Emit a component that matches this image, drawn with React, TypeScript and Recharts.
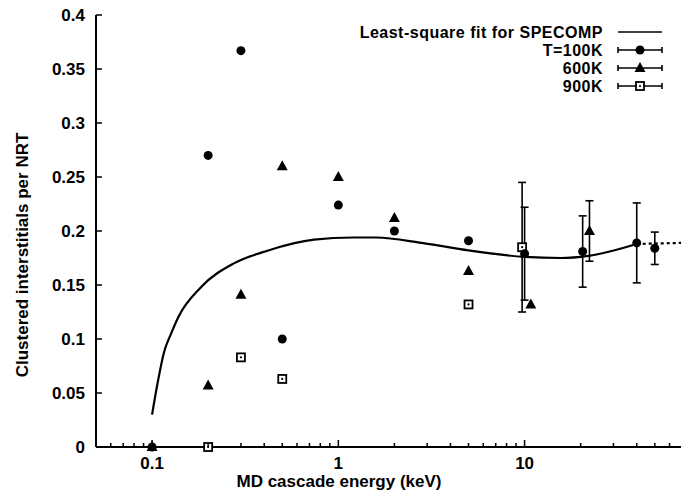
import {
  ComposedChart,
  ErrorBar,
  Legend,
  Line,
  Scatter,
  XAxis,
  YAxis,
} from 'recharts';

// tick values
const xTicks = [
  0.05, 0.06, 0.07, 0.08, 0.09, 0.1, 0.2, 0.3, 0.4, 0.5, 0.6, 0.7, 0.8, 0.9, 1,
  2, 3, 4, 5, 6, 7, 8, 9, 10, 20, 30, 40, 50, 60, 70,
];
const xMajor = [0.1, 1, 10];
const yTicks = [0, 0.05, 0.1, 0.15, 0.2, 0.25, 0.3, 0.35, 0.4];

// T=100K
const t100Energy = [0.1, 0.2, 0.3, 0.5, 1, 2, 5];
const t100Value = [0, 0.27, 0.367, 0.1, 0.224, 0.2, 0.191];
const t100ErrEnergy = [10, 20.5, 40, 50];
const t100ErrValue = [0.179, 0.181, 0.189, 0.184];
const t100Err = [0.043, 0.033, 0.037, 0.015];

// 600K
const t600Energy = [0.1, 0.2, 0.3, 0.5, 1, 2, 5, 10.8];
const t600Value = [0, 0.057, 0.141, 0.26, 0.25, 0.212, 0.163, 0.132];
const t600ErrEnergy = [22.3];
const t600ErrValue = [0.2];
const t600Err = [0.028];

// 900K
const t900Energy = [0.2, 0.3, 0.5, 5];
const t900Value = [0, 0.083, 0.063, 0.132];
const t900ErrEnergy = [9.7];
const t900ErrValue = [0.185];
const t900Err = [0.06];

// least-square fit (SPECOMP)
const fitEnergy = [0.1, 0.107, 0.116, 0.1265, 0.138, 0.183, 0.275, 0.42, 0.74, 1.2, 1.6, 2.8, 5, 10, 15.6, 22, 40];
const fitValue = [0.03, 0.059, 0.088, 0.105, 0.12, 0.148, 0.17, 0.182, 0.192, 0.194, 0.194, 0.189, 0.182, 0.176, 0.175, 0.177, 0.188];
const tailEnergy = [40, 70];
const tailValue = [0.188, 0.189];

const pts = (xs: number[], ys: number[], errs?: number[]) =>
  xs.map((x, i) => ({ x, y: ys[i], err: errs ? errs[i] : 0 }));

const FONT = '"Liberation Sans", Arial, sans-serif';
const FS = 17;

const Dot = (p: any) => <circle cx={p.cx} cy={p.cy} r={4.5} fill="#000" />;
const Tri = (p: any) => (
  <polygon
    points={`${p.cx},${p.cy - 6} ${p.cx - 5.5},${p.cy + 4} ${p.cx + 5.5},${p.cy + 4}`}
    fill="#000"
  />
);
const Box = (p: any) => (
  <g>
    <rect x={p.cx - 4} y={p.cy - 4} width={8} height={8} fill="#fff" stroke="#000" strokeWidth={1.8} />
    <circle cx={p.cx} cy={p.cy} r={1.1} fill="#000" />
  </g>
);

const BottomTick = (p: any) => {
  const v = p.payload.value;
  const major = xMajor.includes(v);
  return (
    <g>
      <line x1={p.x} x2={p.x} y1={p.y} y2={p.y - (major ? 7 : 4)} stroke="#000" strokeWidth={1.5} />
      {major && (
        <text x={p.x} y={p.y + 22} textAnchor="middle" fontFamily={FONT} fontWeight="bold" fontSize={FS} fill="#000">
          {v}
        </text>
      )}
    </g>
  );
};

const TopTick = (p: any) => {
  const major = xMajor.includes(p.payload.value);
  return <line x1={p.x} x2={p.x} y1={p.y} y2={p.y + (major ? 7 : 4)} stroke="#000" strokeWidth={1.5} />;
};

const LeftTick = (p: any) => (
  <g>
    <line x1={p.x} x2={p.x + 6} y1={p.y} y2={p.y} stroke="#000" strokeWidth={1.5} />
    <text x={p.x - 11} y={p.y} dy="0.36em" textAnchor="end" fontFamily={FONT} fontWeight="bold" fontSize={FS} fill="#000">
      {p.payload.value}
    </text>
  </g>
);

const RightTick = (p: any) => (
  <line x1={p.x} x2={p.x - 6} y1={p.y} y2={p.y} stroke="#000" strokeWidth={1.5} />
);

const legendRows = [
  { label: 'Least-square fit for SPECOMP', kind: 'fit', y: 32 },
  { label: 'T=100K', kind: 'dot', y: 50 },
  { label: '600K', kind: 'tri', y: 68 },
  { label: '900K', kind: 'box', y: 86 },
];

const LegendBox = () => (
  <svg width={681} height={100} style={{ display: 'block' }}>
    {legendRows.map((r) => (
      <g key={r.label}>
        <text
          x={603}
          y={r.y}
          dy="0.36em"
          textAnchor="end"
          fontFamily={FONT}
          fontWeight="bold"
          fontSize={16}
          letterSpacing={0.5}
          fill="#000"
        >
          {r.label}
        </text>
        <line x1={618} x2={662} y1={r.y} y2={r.y} stroke="#000" strokeWidth={1.6} />
        {r.kind !== 'fit' && (
          <g stroke="#000" strokeWidth={1.6}>
            <line x1={618} x2={618} y1={r.y - 3} y2={r.y + 3} />
            <line x1={662} x2={662} y1={r.y - 3} y2={r.y + 3} />
          </g>
        )}
        {r.kind === 'dot' && <Dot cx={640} cy={r.y} />}
        {r.kind === 'tri' && <Tri cx={640} cy={r.y} />}
        {r.kind === 'box' && <Box cx={640} cy={r.y} />}
      </g>
    ))}
  </svg>
);

export default function App() {
  return (
    <div style={{ position: 'absolute', left: 0, top: 0, width: 681, height: 491, overflow: 'hidden', background: '#fff' }}>
      <ComposedChart width={684} height={491} margin={{ top: 15, right: 2, bottom: 0, left: 0 }}>
        <XAxis
          dataKey="x"
          type="number"
          scale="log"
          domain={[0.05, 70]}
          allowDataOverflow
          ticks={xTicks}
          interval={0}
          tickSize={0}
          tickMargin={0}
          tickLine={false}
          tick={BottomTick}
          height={44}
          axisLine={{ stroke: '#000', strokeWidth: 2 }}
          label={({ viewBox }: any) => (
            <text
              x={viewBox.x + 243}
              y={viewBox.y + 40}
              textAnchor="middle"
              fontFamily={FONT}
              fontWeight="bold"
              fontSize={FS}
              fill="#000"
            >
              MD cascade energy (keV)
            </text>
          )}
        />
        <XAxis
          xAxisId="top"
          orientation="top"
          dataKey="x"
          type="number"
          scale="log"
          domain={[0.05, 70]}
          allowDataOverflow
          ticks={xTicks}
          interval={0}
          tickSize={0}
          tickMargin={0}
          tickLine={false}
          tick={TopTick}
          height={0}
          axisLine={{ stroke: '#000', strokeWidth: 2 }}
        />
        <YAxis
          type="number"
          domain={[0, 0.4]}
          ticks={yTicks}
          interval={0}
          width={96}
          tickSize={0}
          tickMargin={0}
          tickLine={false}
          tick={LeftTick}
          axisLine={{ stroke: '#000', strokeWidth: 2 }}
          label={({ viewBox }: any) => {
            const cx = 22;
            const cy = viewBox.y + viewBox.height / 2 + 24;
            return (
              <text
                x={cx}
                y={cy}
                transform={`rotate(-90 ${cx} ${cy})`}
                textAnchor="middle"
                dominantBaseline="central"
                fontFamily={FONT}
                fontWeight="bold"
                fontSize={FS}
                fill="#000"
              >
                Clustered interstitials per NRT
              </text>
            );
          }}
        />
        <YAxis
          yAxisId="right"
          orientation="right"
          type="number"
          domain={[0, 0.4]}
          ticks={yTicks}
          interval={0}
          width={0}
          tickSize={0}
          tickMargin={0}
          tickLine={false}
          tick={RightTick}
          axisLine={{ stroke: '#000', strokeWidth: 2 }}
        />
        <Legend
          layout="vertical"
          align="center"
          verticalAlign="middle"
          wrapperStyle={{ position: 'absolute', left: 0, top: 0, width: 681, height: 100, margin: 0 }}
          content={() => <LegendBox />}
        />
        <Line
          data={pts(fitEnergy, fitValue)}
          dataKey="y"
          type="monotone"
          stroke="#000"
          strokeWidth={2.2}
          dot={false}
          isAnimationActive={false}
        />
        <Line
          data={pts(tailEnergy, tailValue)}
          dataKey="y"
          type="linear"
          stroke="#000"
          strokeWidth={2.2}
          strokeDasharray="3 3"
          dot={false}
          isAnimationActive={false}
        />
        <Scatter data={pts(t100Energy, t100Value)} dataKey="y" shape={Dot} isAnimationActive={false} />
        <Scatter data={pts(t600Energy, t600Value)} dataKey="y" shape={Tri} isAnimationActive={false} />
        <Scatter data={pts(t900Energy, t900Value)} dataKey="y" shape={Box} isAnimationActive={false} />
        <Scatter data={pts(t900ErrEnergy, t900ErrValue, t900Err)} dataKey="y" shape={Box} isAnimationActive={false}>
          <ErrorBar dataKey="err" direction="y" width={4} stroke="#000" strokeWidth={1.6} />
        </Scatter>
        <Scatter data={pts(t100ErrEnergy, t100ErrValue, t100Err)} dataKey="y" shape={Dot} isAnimationActive={false}>
          <ErrorBar dataKey="err" direction="y" width={4} stroke="#000" strokeWidth={1.6} />
        </Scatter>
        <Scatter data={pts(t600ErrEnergy, t600ErrValue, t600Err)} dataKey="y" shape={Tri} isAnimationActive={false}>
          <ErrorBar dataKey="err" direction="y" width={4} stroke="#000" strokeWidth={1.6} />
        </Scatter>
      </ComposedChart>
    </div>
  );
}
